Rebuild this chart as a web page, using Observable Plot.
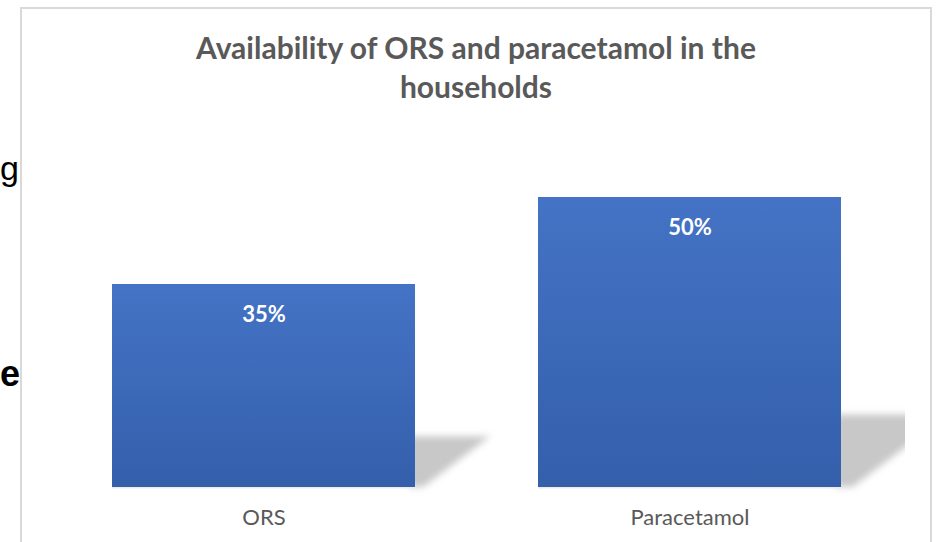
<!DOCTYPE html>
<html>
<head>
<meta charset="utf-8">
<script src="https://cdn.jsdelivr.net/npm/d3@7"></script>
<script src="https://cdn.jsdelivr.net/npm/@observablehq/plot@0.6"></script>
<style>
  html, body { margin: 0; padding: 0; background: #fff; }
  #wrap { position: relative; width: 942px; height: 542px; overflow: hidden; background: #fff; }
  #frame { position: absolute; left: 20px; top: 7px; width: 912px; height: 620px; border: 2px solid #d9d9d9; box-sizing: border-box; }
  #title { position: absolute; left: 20px; width: 912px; top: 28px; text-align: center;
           font: bold 30px Lato, "Open Sans", sans-serif; line-height: 39px; color: #595959; }
  .frag { position: absolute; font-family: "Liberation Sans", Arial, sans-serif; color: #000; line-height: 1; white-space: nowrap; }
  #chart { position: absolute; left: 0; top: 0; }
</style>
</head>
<body>
<div id="wrap">
  <div class="frag" id="fragG" style="left:0px; top:151px; font-size:34px;">g</div>
  <div class="frag" id="fragE" style="left:0px; top:356px; font-size:36px; font-weight:bold;">e</div>
  <div id="frame"></div>
  <div id="title">Availability of ORS and paracetamol in the<br>households</div>
  <div id="chart"></div>
</div>
<script>
const categories = ["ORS", "Paracetamol"];
const values = [35, 50];
const valueLabels = ["35%", "50%"];

const data = categories.map((c, i) => ({ category: c, value: values[i], label: valueLabels[i] }));

function barsWithShadow(index, scales, vals, dimensions, context, next) {
  const bars = next(index, scales, vals, dimensions, context);
  const g = d3.create("svg:g");
  const defs = g.append("defs");
  const grad = defs.append("linearGradient")
    .attr("id", "barGrad").attr("x1", 0).attr("y1", 0).attr("x2", 0).attr("y2", 1);
  grad.append("stop").attr("offset", "0%").attr("stop-color", "#4573c5");
  grad.append("stop").attr("offset", "100%").attr("stop-color", "#335fab");
  defs.append("filter").attr("id", "shBlur").attr("x", "-20%").attr("y", "-20%").attr("width", "140%").attr("height", "140%")
    .append("feGaussianBlur").attr("stdDeviation", 3.5);
  defs.append("clipPath").attr("id", "shClip")
    .append("rect").attr("x", 0).attr("y", 0)
    .attr("width", dimensions.width - dimensions.marginRight + 64).attr("height", dimensions.height);
  const sh = g.append("g").attr("clip-path", "url(#shClip)");
  d3.select(bars).selectAll("rect").each(function () {
    const x = +this.getAttribute("x"), y = +this.getAttribute("y");
    const w = +this.getAttribute("width"), h = +this.getAttribute("height");
    const R = x + w, B = y + h;
    const pts = [[R - 6, B - 0.25 * h], [R + 0.37 * h, B - 0.25 * h], [R + 0.04 * h, B], [R - 6, B]];
    sh.append("polygon").attr("points", pts.map(p => p.join(",")).join(" "))
      .attr("fill", "#c8c8c8").attr("filter", "url(#shBlur)");
    g.append("rect").attr("x", x).attr("y", B).attr("width", w).attr("height", 1.5).attr("fill", "#ececec");
  });
  g.node().appendChild(bars);
  return g.node();
}

const chart = Plot.plot({
  width: 942,
  height: 542,
  marginLeft: 112,
  marginRight: 101,
  marginTop: 139,
  marginBottom: 55,
  style: { background: "transparent", fontFamily: "Lato, 'Open Sans', sans-serif", fontSize: "22px", overflow: "visible" },
  x: { domain: categories, paddingInner: 0.289, paddingOuter: 0, label: null },
  y: { domain: [0, 60], axis: null },
  marks: [
    Plot.barY(data, { x: "category", y: "value", fill: "url(#barGrad)", render: barsWithShadow }),
    Plot.text(data, { x: "category", y: "value", text: "label", dy: 30, fill: "white", fontWeight: "bold", fontSize: 22 }),
    Plot.axisX({ tickSize: 0, tickPadding: 22, fill: "#595959", fontSize: 22, label: null })
  ]
});
document.getElementById("chart").appendChild(chart);
</script>
</body>
</html>
